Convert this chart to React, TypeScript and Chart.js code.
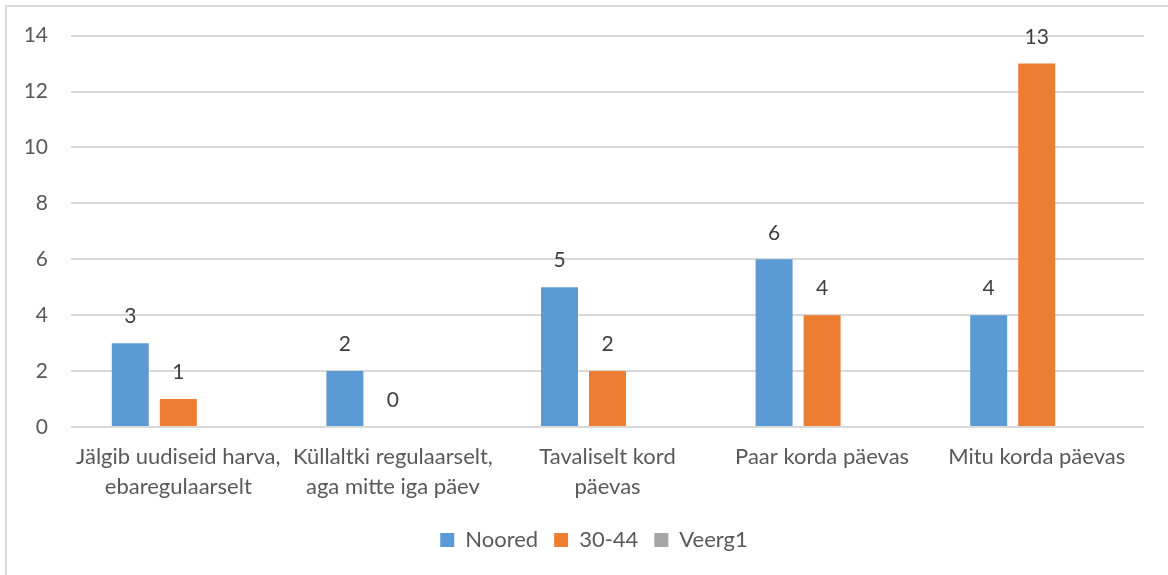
import React, { useEffect, useRef } from "react";
import { Chart, registerables } from "chart.js";

Chart.register(...registerables);

const categories: string[][] = [
  ["Jälgib uudiseid harva,", "ebaregulaarselt"],
  ["Küllaltki regulaarselt,", "aga mitte iga päev"],
  ["Tavaliselt kord", "päevas"],
  ["Paar korda päevas"],
  ["Mitu korda päevas"],
];
const noored: (number | null)[] = [3, 2, 5, 6, 4];
const vanus3044: (number | null)[] = [1, 0, 2, 4, 13];
const veerg1: (number | null)[] = [null, null, null, null, null];
const yMin = 0;
const yMax = 14;
const yStep = 2;

const FONT = "Lato, 'Open Sans', sans-serif";

const dataLabels = {
  id: "dataLabels",
  afterDatasetsDraw(chart: any) {
    const ctx = chart.ctx;
    ctx.save();
    ctx.font = `21px ${FONT}`;
    ctx.fillStyle = "#404040";
    ctx.textAlign = "center";
    ctx.textBaseline = "bottom";
    chart.data.datasets.forEach((ds: any, i: number) => {
      const meta = chart.getDatasetMeta(i);
      if (meta.hidden) return;
      meta.data.forEach((bar: any, j: number) => {
        const v = ds.data[j];
        if (v === null || v === undefined) return;
        ctx.fillText(String(v), bar.x, bar.y - 16);
      });
    });
    ctx.restore();
  },
};

const legendShift = {
  id: "legendShift",
  afterLayout(chart: any) {
    const lg = chart.legend;
    if (lg) {
      lg.left += 22;
      lg.right += 22;
    }
  },
};

export default function App() {
  const ref = useRef<HTMLCanvasElement>(null);
  useEffect(() => {
    document.body.style.margin = "0";
    const chart = new Chart(ref.current!, {
      type: "bar",
      data: {
        labels: categories,
        datasets: [
          { label: "Noored", data: noored, backgroundColor: "#5B9BD5" },
          { label: "30-44", data: vanus3044, backgroundColor: "#ED7D31" },
          { label: "Veerg1", data: veerg1, backgroundColor: "#A5A5A5" },
        ],
      },
      options: {
        responsive: false,
        animation: false,
        datasets: { bar: { categoryPercentage: 0.671, barPercentage: 0.77 } },
        layout: { padding: { left: 0, right: 24, top: 35, bottom: 14 } },
        plugins: {
          tooltip: { enabled: false },
          legend: {
            position: "bottom",
            labels: {
              font: { family: FONT, size: 22 },
              color: "#595959",
              boxWidth: 14,
              boxHeight: 14,
              padding: 16,
            },
          },
        },
        scales: {
          x: {
            grid: { display: false, drawTicks: false },
            border: { display: false },
            ticks: {
              font: { family: FONT, size: 22, lineHeight: 1.36 },
              color: "#595959",
              padding: 15,
              maxRotation: 0,
              autoSkip: false,
            },
            afterFit: (s: any) => {
              s.height = 86;
            },
          },
          y: {
            min: yMin,
            max: yMax,
            grid: { color: "#D9D9D9", lineWidth: 2, drawTicks: false },
            border: { display: false },
            ticks: {
              stepSize: yStep,
              font: { family: FONT, size: 21 },
              color: "#595959",
              padding: 23,
            },
            afterFit: (s: any) => {
              s.width = 71;
            },
          },
        },
      },
      plugins: [dataLabels, legendShift],
    });
    return () => chart.destroy();
  }, []);
  return (
    <div style={{ position: "relative", width: 1168, height: 575, overflow: "hidden", background: "#fff" }}>
      <canvas ref={ref} width={1168} height={575} style={{ position: "absolute", left: 0, top: 0 }} />
      <div
        style={{
          position: "absolute",
          left: 5,
          top: 5,
          width: 1200,
          height: 600,
          borderLeft: "2px solid #D9D9D9",
          borderTop: "2px solid #D9D9D9",
          pointerEvents: "none",
        }}
      />
    </div>
  );
}
